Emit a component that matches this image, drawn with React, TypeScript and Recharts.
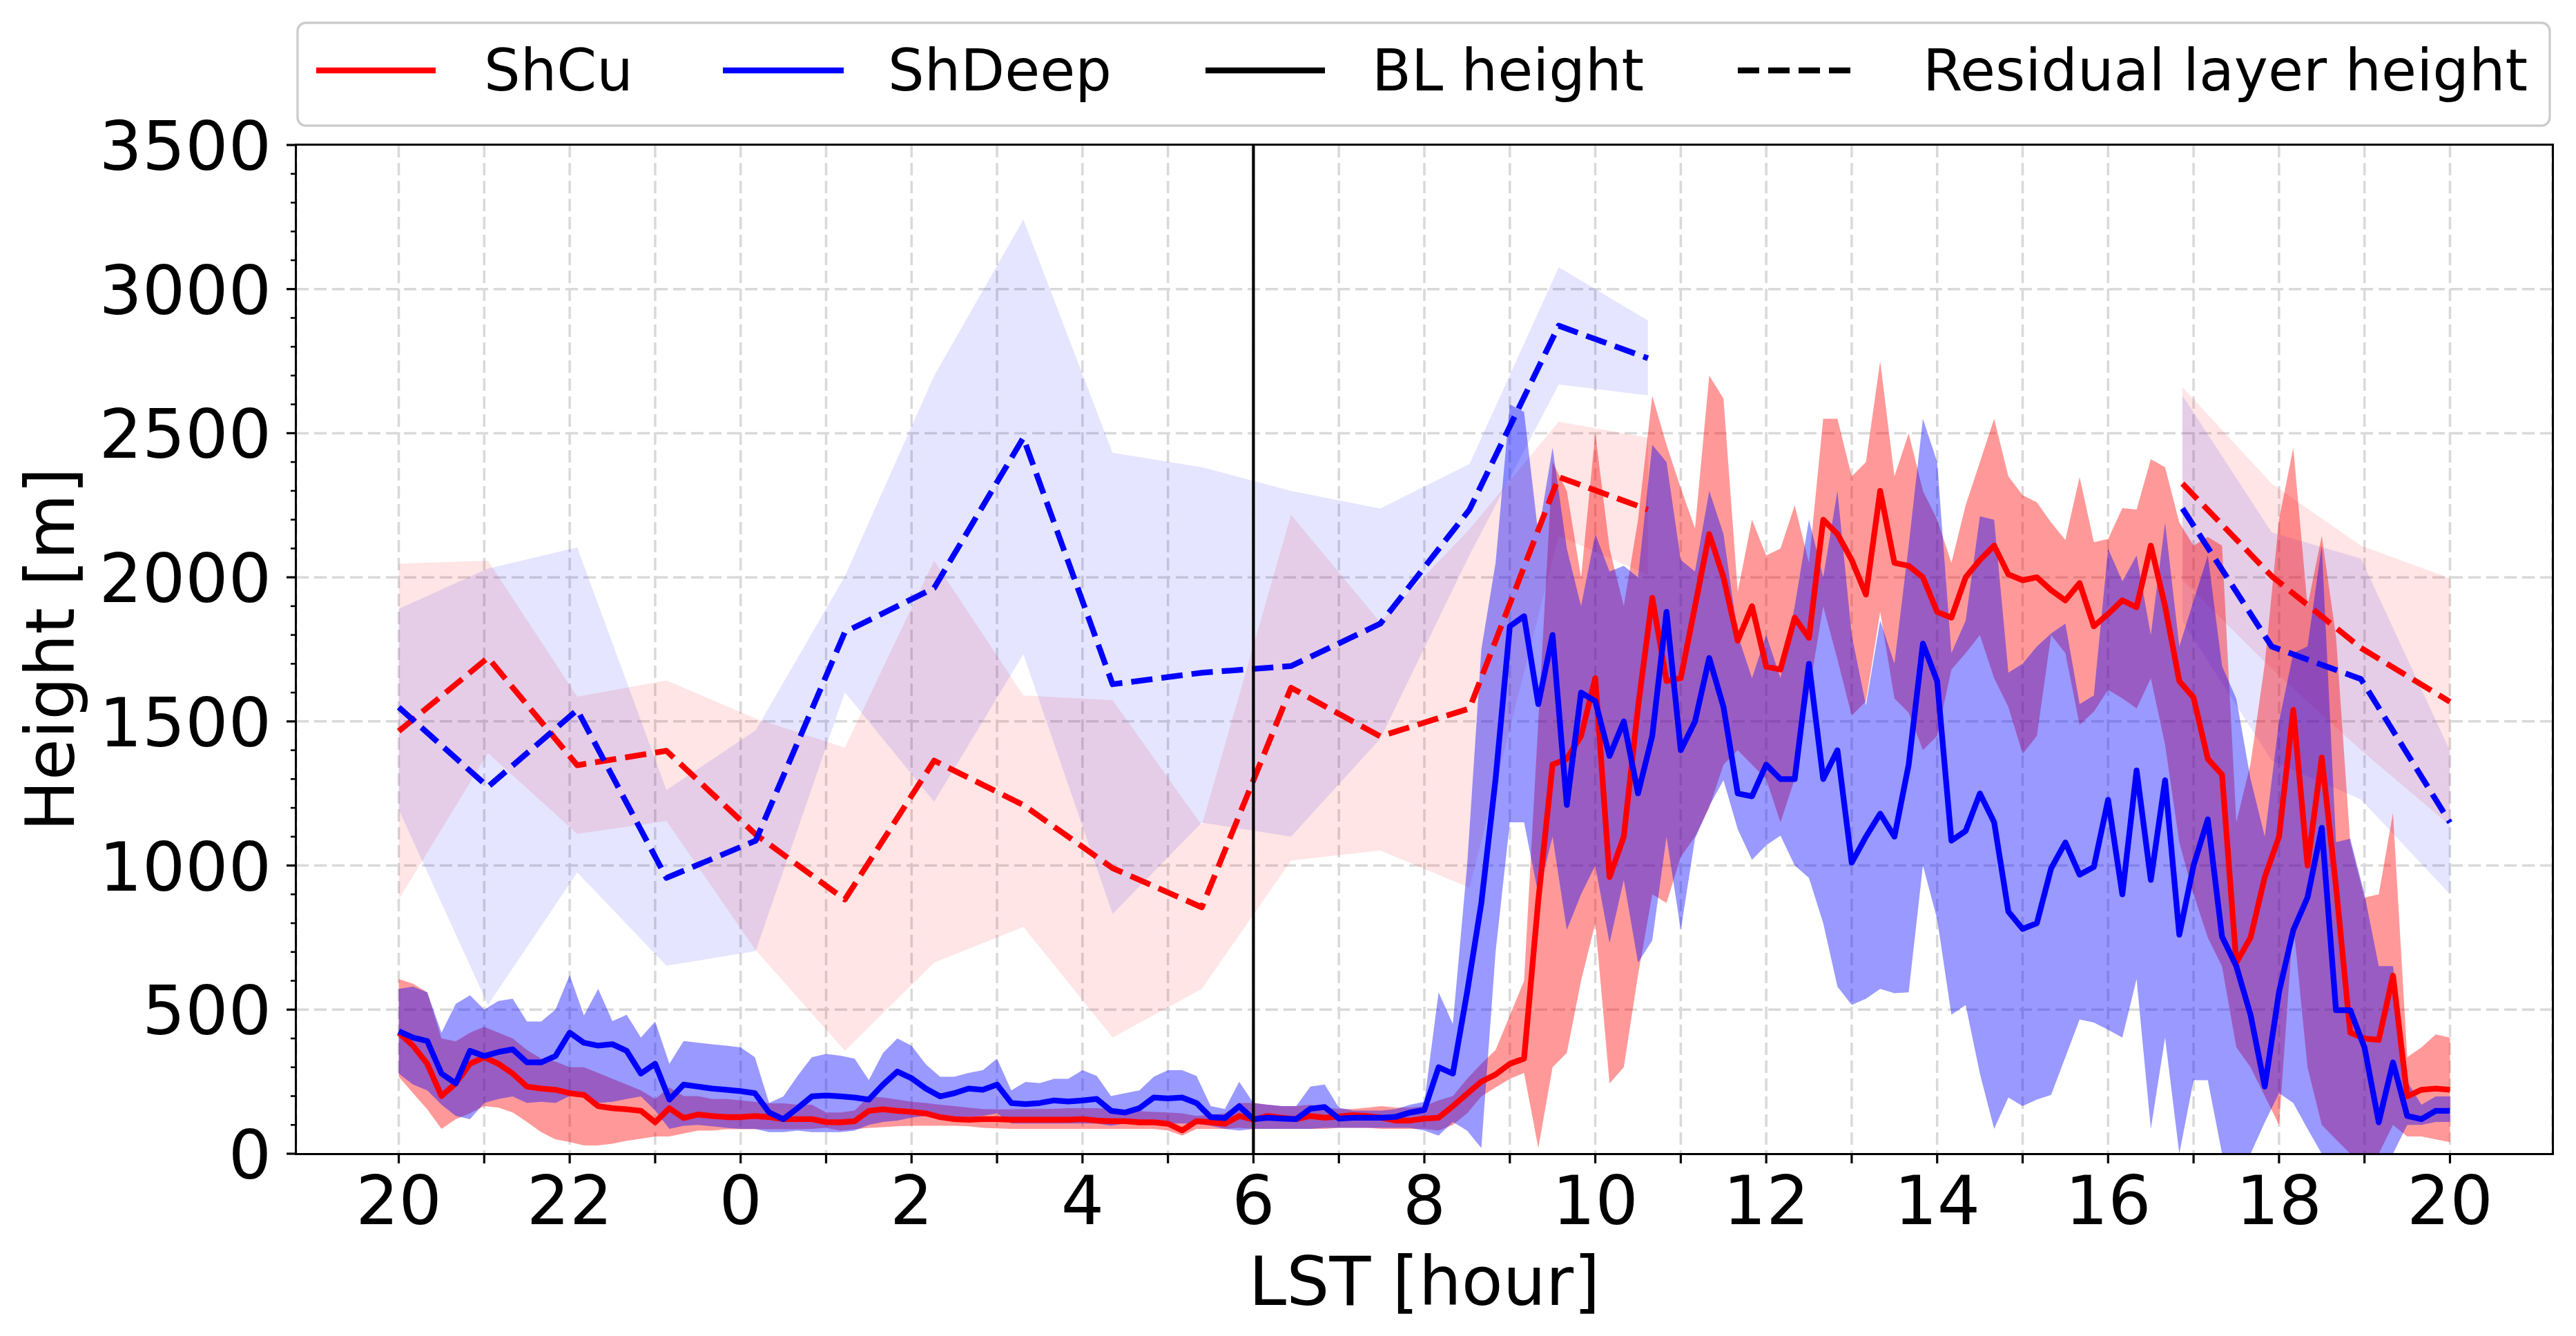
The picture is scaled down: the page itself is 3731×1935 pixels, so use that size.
import React from 'react'
import { ComposedChart, Line, Area, XAxis, YAxis, CartesianGrid, ReferenceLine } from 'recharts'

// page / plot geometry (px)
const W = 3731
const H = 1935
const PLOT_LEFT = 429
const PLOT_TOP = 210
const PLOT_RIGHT = 3697
const PLOT_BOTTOM = 1671
const Y_AXIS_W = 300
const X_AXIS_H = 200
const FONT = '"DejaVu Sans", Verdana, sans-serif'

// x is hours since 20 LST; ticks every hour, labelled every 2 h
const xTicks = [0, 1, 2, 3, 4, 5, 6, 7, 8, 9, 10, 11, 12, 13, 14, 15, 16, 17, 18, 19, 20, 21, 22, 23, 24]
const yMajor = [0, 500, 1000, 1500, 2000, 2500, 3000, 3500]
const yTicks = Array.from({ length: 36 }, (_, i) => i * 100)
const SUNRISE = 10 // 6 LST

// boundary-layer height, 10-min samples from 20 LST to 20 LST
const cuMean = [
  420, 375, 312, 200, 244, 312, 335, 312, 278, 233,
  226, 222, 210, 204, 165, 158, 154, 149, 109, 158,
  124, 136, 131, 127, 127, 131, 127, 120, 120, 120,
  110, 109, 113, 149, 154, 149, 145, 140, 127, 120,
  118, 120, 120, 118, 118, 118, 118, 118, 120, 115,
  113, 113, 109, 109, 104, 81, 113, 109, 104, 131,
  118, 131, 125, 120, 131, 125, 129, 134, 131, 125,
  115, 115, 122, 125, 165, 208, 250, 275, 312, 330,
  880, 1350, 1370, 1450, 1650, 960, 1100, 1550, 1929, 1640,
  1650, 1900, 2150, 2000, 1780, 1900, 1690, 1680, 1860, 1790,
  2200, 2150, 2060, 1940, 2300, 2050, 2040, 2000, 1880, 1860,
  2000, 2060, 2110, 2010, 1990, 2000, 1955, 1920, 1980, 1830,
  1873, 1920, 1896, 2110, 1900, 1640, 1583, 1370, 1315, 663,
  750, 960, 1100, 1540, 1000, 1375, 927, 420, 400, 395,
  618, 199, 222, 226, 222,
]
const cuHi = [
  606, 590, 560, 400, 390, 420, 440, 420, 400, 360,
  330, 320, 300, 300, 280, 260, 240, 220, 190, 230,
  200, 200, 190, 190, 185, 180, 175, 175, 170, 170,
  143, 143, 150, 199, 195, 188, 180, 176, 170, 165,
  160, 155, 154, 154, 155, 155, 156, 158, 158, 158,
  155, 150, 148, 145, 143, 140, 131, 135, 140, 176,
  176, 170, 165, 165, 170, 160, 155, 155, 160, 165,
  160, 160, 165, 185, 200, 260, 312, 360, 480, 600,
  1500, 2400, 2300, 2000, 2500, 2100, 1900, 2200, 2630, 2460,
  2310, 2170, 2700, 2620, 1950, 2200, 2076, 2100, 2250, 2050,
  2550, 2550, 2350, 2400, 2750, 2350, 2500, 2300, 2200, 2050,
  2250, 2400, 2550, 2350, 2285, 2260, 2190, 2130, 2348, 2122,
  2133, 2240, 2235, 2410, 2382, 2190, 2110, 2140, 2110, 1149,
  1353, 1700, 2200, 2450, 1900, 2144, 1794, 1081, 889, 900,
  1183, 335, 369, 414, 403,
]
const cuLo = [
  267, 210, 154, 86, 120, 140, 165, 160, 143, 110,
  75, 50, 41, 29, 29, 35, 45, 52, 60, 60,
  70, 80, 80, 85, 85, 85, 85, 85, 85, 86,
  90, 80, 85, 90, 92, 95, 97, 97, 97, 97,
  95, 90, 88, 86, 86, 86, 86, 86, 86, 86,
  86, 86, 86, 86, 80, 63, 86, 86, 86, 90,
  86, 86, 86, 86, 86, 86, 90, 90, 90, 86,
  86, 86, 86, 80, 100, 140, 199, 230, 260, 280,
  20, 300, 350, 600, 800, 244, 300, 620, 900, 870,
  1030, 1100, 1200, 1350, 1400, 1350, 1300, 1150, 1300, 1600,
  1900, 1715, 1520, 1570, 1880, 1580, 1530, 1400, 1450, 1680,
  1737, 1800, 1650, 1550, 1387, 1450, 1800, 1737, 1488, 1534,
  1610, 1580, 1545, 1650, 1420, 1080, 900, 750, 650, 370,
  300, 200, 100, 800, 300, 100, 50, 0, 0, 0,
  100, 60, 60, 50, 40,
]
const deepMean = [
  425, 403, 391, 278, 244, 357, 339, 353, 362, 317,
  317, 339, 420, 385, 375, 380, 357, 278, 312, 188,
  240, 233, 226, 222, 217, 210, 143, 120, 158, 199,
  202, 199, 195, 188, 240, 285, 262, 226, 199, 210,
  226, 222, 240, 176, 172, 176, 185, 181, 185, 190,
  149, 143, 158, 195, 192, 195, 176, 127, 124, 165,
  120, 125, 122, 120, 156, 162, 122, 125, 125, 125,
  128, 143, 152, 300, 278, 560, 870, 1300, 1830, 1865,
  1560, 1800, 1210, 1600, 1570, 1380, 1500, 1250, 1450, 1880,
  1400, 1500, 1720, 1550, 1250, 1240, 1350, 1300, 1300, 1700,
  1300, 1400, 1010, 1100, 1180, 1100, 1350, 1770, 1640, 1086,
  1120, 1250, 1150, 840, 780, 800, 990, 1080, 968, 995,
  1228, 900, 1330, 950, 1296, 760, 1000, 1160, 753, 651,
  482, 233, 561, 776, 889, 1131, 498, 498, 369, 109,
  317, 131, 120, 149, 149,
]
const deepHi = [
  572, 580, 560, 420, 520, 550, 500, 530, 538, 459,
  459, 500, 620, 480, 572, 460, 482, 403, 459, 312,
  391, 385, 380, 375, 369, 335, 176, 199, 270, 335,
  346, 340, 330, 256, 350, 400, 375, 310, 267, 267,
  280, 290, 330, 220, 249, 245, 260, 260, 290, 270,
  200, 210, 220, 267, 290, 290, 270, 165, 155, 250,
  176, 170, 165, 165, 233, 240, 160, 150, 150, 150,
  155, 170, 180, 560, 450, 1000, 1750, 2050, 2600, 2574,
  2150, 2450, 2100, 1900, 2150, 2020, 2040, 2000, 2460, 2400,
  2060, 2020, 2300, 2150, 1800, 1650, 1800, 1650, 1900, 2200,
  2000, 2300, 1800, 1556, 1850, 1700, 2110, 2550, 2400, 1737,
  1850, 2212, 2200, 1669, 1700, 1760, 1805, 1839, 1560, 1590,
  2099, 1986, 2076, 1800, 2190, 1760, 1918, 2076, 1692, 1579,
  1300, 1100, 1500, 1737, 1760, 2110, 1081, 1093, 900, 651,
  651, 250, 170, 199, 199,
]
const deepLo = [
  278, 240, 220, 170, 131, 120, 176, 190, 199, 176,
  180, 176, 200, 200, 176, 180, 190, 199, 150, 86,
  97, 100, 95, 90, 86, 86, 75, 75, 80, 75,
  75, 75, 80, 100, 110, 115, 125, 131, 131, 128,
  128, 131, 140, 105, 105, 105, 105, 105, 105, 105,
  97, 105, 105, 105, 105, 105, 105, 97, 86, 80,
  86, 86, 86, 86, 86, 90, 90, 90, 90, 90,
  90, 90, 80, 63, 110, 80, 20, 700, 1150, 1150,
  900, 1100, 776, 900, 1000, 731, 950, 663, 740, 1100,
  776, 1093, 1206, 1296, 1126, 1020, 1070, 1104, 1000, 957,
  800, 580, 516, 538, 572, 557, 560, 1000, 814, 482,
  516, 278, 86, 195, 165, 188, 204, 335, 466, 455,
  430, 403, 606, 86, 403, 0, 255, 255, 0, 0,
  0, 109, 210, 176, 86, 0, 0, 0, 0, 0,
  0, 100, 100, 110, 110,
]

// residual layer height, night-time and late-afternoon samples
const nightT = [0, 1.044, 2.088, 3.132, 4.176, 5.22, 6.264, 7.308, 8.352, 9.396, 10.44, 11.484, 12.528, 13.572, 14.616]
const cuResNight = [1466, 1721, 1348, 1398, 1108, 882, 1364, 1210, 991, 855, 1617, 1448, 1545, 2348, 2235]
const cuResNightHi = [2047, 2058, 1586, 1642, 1510, 1409, 2058, 1590, 1574, 1140, 2217, 1844, 2167, 2540, 2484]
const cuResNightLo = [882, 1390, 1110, 1154, 706, 357, 663, 787, 403, 572, 1017, 1052, 923, 2144, 2009]
const deepResNight = [1549, 1273, 1540, 957, 1086, 1810, 1963, 2484, 1629, 1669, 1692, 1839, 2235, 2873, 2760]
const deepResNightHi = [1891, 2030, 2104, 1262, 1469, 2004, 2699, 3241, 2432, 2382, 2300, 2239, 2393, 3076, 2891]
const deepResNightLo = [1194, 516, 976, 652, 703, 1601, 1221, 1733, 832, 1149, 1100, 1440, 2077, 2669, 2631]

const eveT = [20.87, 21.914, 22.958, 24]
const cuResEve = [2325, 2004, 1755, 1568]
const cuResEveHi = [2660, 2325, 2110, 1997]
const cuResEveLo = [1990, 1683, 1400, 1139]
const deepResEve = [2239, 1760, 1647, 1149]
const deepResEveHi = [2631, 2156, 2065, 1398]
const deepResEveLo = [1847, 1364, 1229, 900]

// merge everything into one table keyed by time
type Row = { t: number; [k: string]: any }
const rowMap = new Map<string, Row>()
const put = (t: number, key: string, v: any) => {
  const id = t.toFixed(3)
  if (!rowMap.has(id)) rowMap.set(id, { t })
  rowMap.get(id)![key] = v
}
cuMean.forEach((v, i) => {
  const t = i / 6
  put(t, 'cuMean', v)
  put(t, 'cuBand', [cuLo[i], cuHi[i]])
  put(t, 'deepMean', deepMean[i])
  put(t, 'deepBand', [deepLo[i], deepHi[i]])
})
nightT.forEach((t, i) => {
  put(t, 'cuResN', cuResNight[i])
  put(t, 'cuResNBand', [cuResNightLo[i], cuResNightHi[i]])
  put(t, 'deepResN', deepResNight[i])
  put(t, 'deepResNBand', [deepResNightLo[i], deepResNightHi[i]])
})
eveT.forEach((t, i) => {
  put(t, 'cuResE', cuResEve[i])
  put(t, 'cuResEBand', [cuResEveLo[i], cuResEveHi[i]])
  put(t, 'deepResE', deepResEve[i])
  put(t, 'deepResEBand', [deepResEveLo[i], deepResEveHi[i]])
})
const data = [...rowMap.values()].sort((a, b) => a.t - b.t)

const LW = 8.3
const DASH = '31 13'

function XTick(props: any) {
  const { x, payload } = props
  const v = payload.value
  if (v % 2 !== 0) return <g />
  return (
    <text x={x} y={PLOT_BOTTOM + 102} textAnchor="middle" fontSize={98} fontFamily={FONT} fill="#000">
      {(20 + v) % 24}
    </text>
  )
}

function YTick(props: any) {
  const { y, payload } = props
  const v = payload.value
  const major = yMajor.includes(v)
  return (
    <g>
      <line x1={PLOT_LEFT - (major ? 14 : 8)} x2={PLOT_LEFT} y1={y} y2={y} stroke="#000" strokeWidth={major ? 3.2 : 2.6} />
      {major && (
        <text x={PLOT_LEFT - 36} y={y + 36} textAnchor="end" fontSize={98} fontFamily={FONT} fill="#000">
          {v}
        </text>
      )}
    </g>
  )
}

// axis titles ignore the props recharts hands to labels and sit at fixed spots
function XTitle() {
  return (
    <text x={(PLOT_LEFT + PLOT_RIGHT) / 2} y={1890} textAnchor="middle" fontSize={98} fontFamily={FONT} fill="#000">
      LST [hour]
    </text>
  )
}

function YTitle() {
  const cy = (PLOT_TOP + PLOT_BOTTOM) / 2
  return (
    <text x={107} y={cy} transform={`rotate(-90 107 ${cy})`} textAnchor="middle" fontSize={98} fontFamily={FONT} fill="#000">
      Height [m]
    </text>
  )
}

const legendItems = [
  { label: 'ShCu', color: '#ff0000', dash: undefined, x1: 458, x2: 631, tx: 701 },
  { label: 'ShDeep', color: '#0000ff', dash: undefined, x1: 1047, x2: 1222, tx: 1286 },
  { label: 'BL height', color: '#000000', dash: undefined, x1: 1746, x2: 1919, tx: 1987 },
  { label: 'Residual layer height', color: '#000000', dash: DASH, x1: 2517, x2: 2683, tx: 2785 },
]

export default function App() {
  return (
    <div style={{ position: 'absolute', left: 0, top: 0, width: W, height: H, background: '#fff', fontFamily: FONT }}>
      <ComposedChart
        width={W}
        height={H}
        data={data}
        margin={{ top: PLOT_TOP, right: W - PLOT_RIGHT, bottom: H - PLOT_BOTTOM - X_AXIS_H, left: PLOT_LEFT - Y_AXIS_W }}
      >
        <CartesianGrid
          stroke="#d9d9d9"
          strokeWidth={3.5}
          strokeDasharray="18 8"
          horizontalValues={[500, 1000, 1500, 2000, 2500, 3000]}
        />
        <XAxis
          dataKey="t"
          type="number"
          domain={[-1.2, 25.2]}
          ticks={xTicks}
          interval={0}
          height={X_AXIS_H}
          axisLine={false}
          tickLine={{ stroke: '#000', strokeWidth: 3.2 }}
          tickSize={14}
          tick={<XTick />}
          label={<XTitle />}
        />
        <YAxis
          type="number"
          domain={[0, 3500]}
          ticks={yTicks}
          interval={0}
          width={Y_AXIS_W}
          axisLine={false}
          tickLine={false}
          tick={<YTick />}
          label={<YTitle />}
        />

        {/* residual layer spread */}
        <Area dataKey="cuResNBand" stroke="none" fill="#ff0000" fillOpacity={0.1} connectNulls isAnimationActive={false} activeDot={false} />
        <Area dataKey="deepResNBand" stroke="none" fill="#0000ff" fillOpacity={0.1} connectNulls isAnimationActive={false} activeDot={false} />
        <Area dataKey="cuResEBand" stroke="none" fill="#ff0000" fillOpacity={0.1} connectNulls isAnimationActive={false} activeDot={false} />
        <Area dataKey="deepResEBand" stroke="none" fill="#0000ff" fillOpacity={0.1} connectNulls isAnimationActive={false} activeDot={false} />

        {/* BL height spread */}
        <Area dataKey="cuBand" stroke="none" fill="#ff0000" fillOpacity={0.4} connectNulls isAnimationActive={false} activeDot={false} />
        <Area dataKey="deepBand" stroke="none" fill="#0000ff" fillOpacity={0.4} connectNulls isAnimationActive={false} activeDot={false} />

        {/* residual layer means */}
        <Line dataKey="cuResN" stroke="#ff0000" strokeWidth={LW} strokeDasharray={DASH} strokeLinejoin="round" dot={false} activeDot={false} connectNulls isAnimationActive={false} />
        <Line dataKey="deepResN" stroke="#0000ff" strokeWidth={LW} strokeDasharray={DASH} strokeLinejoin="round" dot={false} activeDot={false} connectNulls isAnimationActive={false} />
        <Line dataKey="cuResE" stroke="#ff0000" strokeWidth={LW} strokeDasharray={DASH} strokeLinejoin="round" dot={false} activeDot={false} connectNulls isAnimationActive={false} />
        <Line dataKey="deepResE" stroke="#0000ff" strokeWidth={LW} strokeDasharray={DASH} strokeLinejoin="round" dot={false} activeDot={false} connectNulls isAnimationActive={false} />

        {/* BL height means */}
        <Line dataKey="cuMean" stroke="#ff0000" strokeWidth={LW} strokeLinejoin="round" dot={false} activeDot={false} connectNulls isAnimationActive={false} />
        <Line dataKey="deepMean" stroke="#0000ff" strokeWidth={LW} strokeLinejoin="round" dot={false} activeDot={false} connectNulls isAnimationActive={false} />

        <ReferenceLine x={SUNRISE} stroke="#000" strokeWidth={4.2} />
      </ComposedChart>

      {/* axes frame */}
      <div
        style={{
          position: 'absolute',
          left: PLOT_LEFT - 1.75,
          top: PLOT_TOP - 1.75,
          width: PLOT_RIGHT - PLOT_LEFT + 3.5,
          height: PLOT_BOTTOM - PLOT_TOP + 3.5,
          border: '3.5px solid #000',
          boxSizing: 'border-box',
          pointerEvents: 'none',
        }}
      />

      {/* legend */}
      <svg width={W} height={200} style={{ position: 'absolute', left: 0, top: 0, pointerEvents: 'none' }}>
        <rect x={431} y={33} width={3262} height={149} rx={12} ry={12} fill="#fff" fillOpacity={0.8} stroke="#cccccc" strokeWidth={3.3} />
        {legendItems.map(it => (
          <g key={it.label}>
            <line x1={it.x1} x2={it.x2} y1={102} y2={102} stroke={it.color} strokeWidth={LW} strokeDasharray={it.dash} />
            <text x={it.tx} y={131} fontSize={83} fontFamily={FONT} fill="#000">{it.label}</text>
          </g>
        ))}
      </svg>
    </div>
  )
}
